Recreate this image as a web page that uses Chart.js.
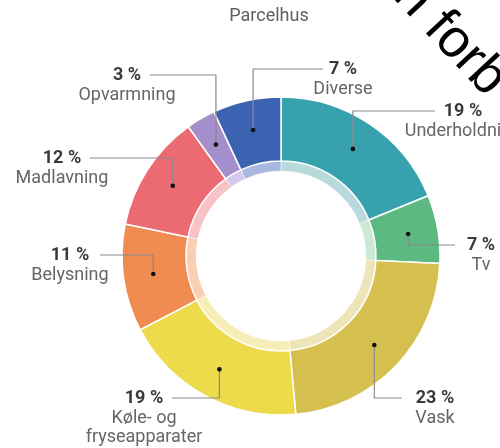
<!DOCTYPE html>
<html><head><meta charset="utf-8">
<script src="https://cdn.jsdelivr.net/npm/chart.js@4"></script>
<style>html,body{margin:0;padding:0;background:#fff;}#wrap{position:relative;width:500px;height:448px;overflow:hidden;}</style>
</head><body><div id="wrap"><canvas id="c" width="500" height="448"></canvas></div>
<script>
const chartTitle = "Parcelhus";
const watermark = "n forb";
const categories = ["Underholdning","Tv","Vask","Køle- og fryseapparater","Belysning","Madlavning","Opvarmning","Diverse"];
const labelLines = [["Underholdning"],["Tv"],["Vask"],["Køle- og","fryseapparater"],["Belysning"],["Madlavning"],["Opvarmning"],["Diverse"]];
const shares = [19,7,23,19,11,12,3,7];
const colors = ["#37a2ad","#5cb97f","#d5c04f","#eedb4b","#f08c52","#ec6a71","#a48fcc","#3b63b1"];
const bandColors = ["#b9dadc","#cae8d3","#ede4b8","#f6eeb6","#f9cfb4","#f7c3c6","#d3c9ea","#a9b8e0"];
// label layout (text centre x, row y, leader end x)
const labelCenterX = [463,481,435,144,70,62,127,343];
const labelRowY = [111,245,398,398,255,158,75,69];
const leaderEndX = [435,455,402,172,100,90,150,323];

const labelPlugin = {
  id: 'labels',
  afterDraw(chart) {
    const ctx = chart.ctx;
    const meta = chart.getDatasetMeta(0);
    ctx.save();
    // title
    ctx.fillStyle = '#606060';
    ctx.font = '18px Roboto';
    ctx.textAlign = 'center';
    ctx.textBaseline = 'middle';
    ctx.fillText(chartTitle, 269, 16);
    meta.data.forEach((arc, i) => {
      const p = arc.getProps(['x','y','startAngle','endAngle','outerRadius'], true);
      const mid = (p.startAngle + p.endAngle) / 2;
      const r = p.outerRadius - 30;
      const dx = p.x + Math.cos(mid) * r;
      const dy = p.y + Math.sin(mid) * r;
      const ly = labelRowY[i];
      ctx.strokeStyle = '#8a8a8a';
      ctx.lineWidth = 1.2;
      ctx.beginPath();
      ctx.moveTo(dx, dy);
      ctx.lineTo(dx, ly);
      ctx.lineTo(leaderEndX[i], ly);
      ctx.stroke();
      ctx.fillStyle = '#111';
      ctx.beginPath();
      ctx.arc(dx, dy, 2.3, 0, Math.PI * 2);
      ctx.fill();
      ctx.textAlign = 'center';
      ctx.textBaseline = 'middle';
      ctx.fillStyle = '#3a3a3a';
      ctx.font = 'bold 18px Roboto';
      ctx.fillText(shares[i] + ' %', labelCenterX[i], ly);
      ctx.fillStyle = '#666';
      ctx.font = '18px Roboto';
      labelLines[i].forEach((t, k) => {
        ctx.fillText(t, labelCenterX[i], ly + 20 + k * 19);
      });
    });
    // diagonal overlay text
    ctx.save();
    ctx.translate(392, -3);
    ctx.rotate(47 * Math.PI / 180);
    ctx.fillStyle = '#000';
    ctx.font = '54px "Liberation Sans"';
    ctx.textAlign = 'left';
    ctx.textBaseline = 'alphabetic';
    ctx.fillText(watermark, 0, 0);
    ctx.restore();
    ctx.restore();
  }
};

new Chart(document.getElementById('c'), {
  type: 'doughnut',
  data: {
    labels: categories,
    datasets: [
      { data: shares, backgroundColor: colors, borderColor: '#fff', borderWidth: 1.5, weight: 64 },
      { data: shares, backgroundColor: bandColors, borderColor: '#fff', borderWidth: 0.5, weight: 10 }
    ]
  },
  options: {
    responsive: false,
    animation: false,
    radius: 159,
    cutout: '53.46%',
    layout: { padding: { left: 62, top: 64, right: 0, bottom: 0 } },
    plugins: { legend: { display: false }, tooltip: { enabled: false }, title: { display: false } }
  },
  plugins: [labelPlugin]
});
</script>
</body></html>
